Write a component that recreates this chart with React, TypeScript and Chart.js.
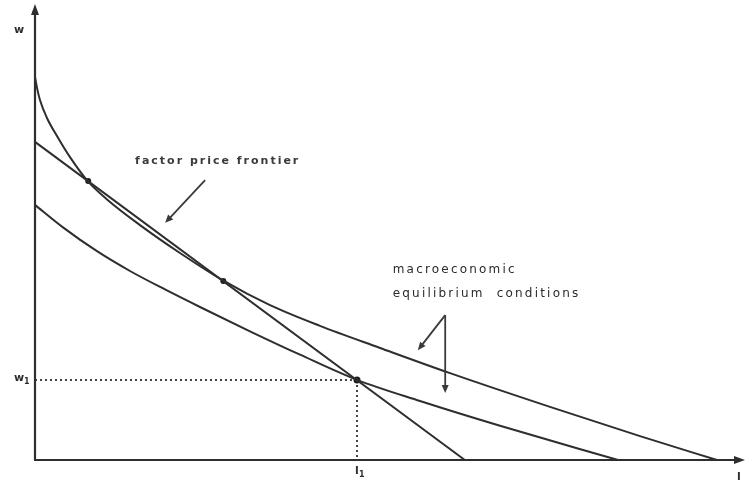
import React, { useEffect, useRef } from 'react';
import { Chart, registerables } from 'chart.js';

Chart.register(...registerables);

// factor price frontier (convex curve)
const frontierL = [0, 0.029, 0.071, 0.171, 0.314, 0.5, 0.757, 1.029, 1.5, 2.071, 2.686, 3.357, 4.071, 4.929, 5.929, 7.357, 8.643, 9.743];
const frontierW = [8.51, 8.27, 8.0, 7.6, 7.2, 6.73, 6.19, 5.79, 5.22, 4.6, 3.99, 3.44, 2.98, 2.49, 1.93, 1.18, 0.53, 0];

// macroeconomic equilibrium condition: straight line
const lineL = [0, 6.14];
const lineW = [7.07, 0];

// macroeconomic equilibrium condition: lower curve
const curveL = [0, 0.4, 0.886, 1.357, 1.857, 2.357, 3.071, 3.786, 4.6, 5.5, 6.643, 8.329];
const curveW = [5.67, 5.17, 4.64, 4.2, 3.79, 3.4, 2.86, 2.34, 1.78, 1.31, 0.76, 0];

// marked intersections
const dotL = [0.76, 2.69, 4.6];
const dotW = [6.2, 3.98, 1.78];

const l1 = 4.6;
const w1 = 1.78;

const yAxisTitle = 'w';
const xAxisTitle = 'l';
const tickW = ['w', '1'];
const tickL = ['l', '1'];
const frontierLabel = 'factor price frontier';
const macroLabel = ['macroeconomic', 'equilibrium  conditions'];

const INK = '#2e2e2e';

function toXY(xs: number[], ys: number[]) {
  return xs.map((x, i) => ({ x, y: ys[i] }));
}

function arrow(ctx: CanvasRenderingContext2D, x1: number, y1: number, x2: number, y2: number, len = 8, half = 3.5) {
  const a = Math.atan2(y2 - y1, x2 - x1);
  ctx.beginPath();
  ctx.moveTo(x1, y1);
  ctx.lineTo(x2 - Math.cos(a) * len * 0.6, y2 - Math.sin(a) * len * 0.6);
  ctx.stroke();
  ctx.beginPath();
  ctx.moveTo(x2, y2);
  ctx.lineTo(x2 - Math.cos(a) * len - Math.sin(a) * half, y2 - Math.sin(a) * len + Math.cos(a) * half);
  ctx.lineTo(x2 - Math.cos(a) * len + Math.sin(a) * half, y2 - Math.sin(a) * len - Math.cos(a) * half);
  ctx.closePath();
  ctx.fill();
}

const decorPlugin = {
  id: 'decor',
  beforeDatasetsDraw(chart: any) {
    const { ctx, scales } = chart;
    const X = (v: number) => scales.x.getPixelForValue(v);
    const Y = (v: number) => scales.y.getPixelForValue(v);
    ctx.save();
    ctx.strokeStyle = '#444';
    ctx.lineWidth = 2;
    ctx.setLineDash([2, 3]);
    ctx.beginPath();
    ctx.moveTo(X(0), Y(w1));
    ctx.lineTo(X(l1), Y(w1));
    ctx.moveTo(X(l1), Y(w1));
    ctx.lineTo(X(l1), Y(0));
    ctx.stroke();
    ctx.setLineDash([]);
    ctx.restore();
  },
  afterDraw(chart: any) {
    const { ctx, scales } = chart;
    const X = (v: number) => scales.x.getPixelForValue(v);
    const Y = (v: number) => scales.y.getPixelForValue(v);
    const x0 = X(0);
    const y0 = Y(0);
    ctx.save();
    ctx.strokeStyle = INK;
    ctx.fillStyle = INK;
    ctx.lineWidth = 2.2;
    // axes
    ctx.beginPath();
    ctx.moveTo(x0, y0);
    ctx.lineTo(x0, 12);
    ctx.moveTo(x0 - 1, y0);
    ctx.lineTo(738, y0);
    ctx.stroke();
    ctx.beginPath();
    ctx.moveTo(x0, 4);
    ctx.lineTo(x0 - 4, 15);
    ctx.lineTo(x0 + 4, 15);
    ctx.closePath();
    ctx.fill();
    ctx.beginPath();
    ctx.moveTo(745, y0);
    ctx.lineTo(734, y0 - 4);
    ctx.lineTo(734, y0 + 4);
    ctx.closePath();
    ctx.fill();

    // axis titles
    ctx.textBaseline = 'middle';
    ctx.textAlign = 'left';
    ctx.font = 'bold 11px "DejaVu Sans"';
    ctx.fillText(yAxisTitle, 14, 30);
    ctx.fillText(xAxisTitle, 737, 477);

    // tick labels with subscripts
    ctx.fillText(tickW[0], 14, Y(w1) - 2);
    ctx.font = 'bold 8px "DejaVu Sans"';
    ctx.fillText(tickW[1], 24, Y(w1) + 2);
    ctx.font = 'bold 11px "DejaVu Sans"';
    ctx.fillText(tickL[0], X(l1) - 2, 471);
    ctx.font = 'bold 8px "DejaVu Sans"';
    ctx.fillText(tickL[1], X(l1) + 2, 475);

    // annotations
    ctx.fillStyle = '#3a3a3a';
    (ctx as any).letterSpacing = '2px';
    ctx.font = 'bold 11px "DejaVu Sans"';
    ctx.fillText(frontierLabel, X(1.43), Y(6.64));
    ctx.fillStyle = '#2a2a2a';
    (ctx as any).letterSpacing = '2.2px';
    ctx.font = '12px "DejaVu Sans"';
    ctx.fillText(macroLabel[0], X(5.11), Y(4.22));
    ctx.fillText(macroLabel[1], X(5.11), Y(3.69));
    (ctx as any).letterSpacing = '0px';

    ctx.strokeStyle = '#3a3a3a';
    ctx.fillStyle = '#3a3a3a';
    ctx.lineWidth = 1.8;
    arrow(ctx, X(2.43), Y(6.22), X(1.86), Y(5.27));
    arrow(ctx, X(5.86), Y(3.22), X(5.47), Y(2.44));
    arrow(ctx, X(5.86), Y(3.22), X(5.86), Y(1.49));
    ctx.restore();
  },
};

export default function App() {
  const ref = useRef<HTMLCanvasElement | null>(null);
  useEffect(() => {
    if (!ref.current) return;
    const lineStyle = {
      showLine: true,
      borderColor: INK,
      borderWidth: 2,
      pointRadius: 0,
      fill: false,
    };
    const chart = new Chart(ref.current, {
      type: 'scatter',
      data: {
        datasets: [
          { ...lineStyle, label: 'factor price frontier', data: toXY(frontierL, frontierW), cubicInterpolationMode: 'monotone' } as any,
          { ...lineStyle, label: 'equilibrium line', data: toXY(lineL, lineW), tension: 0 } as any,
          { ...lineStyle, label: 'equilibrium curve', data: toXY(curveL, curveW), cubicInterpolationMode: 'monotone' } as any,
          {
            label: 'points',
            data: toXY(dotL, dotW),
            showLine: false,
            pointRadius: [3, 3, 3.5],
            pointBackgroundColor: '#1e1e1e',
            pointBorderColor: '#1e1e1e',
            pointBorderWidth: 0,
          } as any,
        ],
      },
      options: {
        animation: false,
        responsive: true,
        maintainAspectRatio: false,
        layout: { padding: { left: 35, right: 10, top: 10, bottom: 25 } },
        plugins: { legend: { display: false }, tooltip: { enabled: false } },
        scales: {
          x: { type: 'linear', min: 0, max: 10, display: false },
          y: { type: 'linear', min: 0, max: 10, display: false },
        },
        datasets: { scatter: { clip: false } } as any,
      },
      plugins: [decorPlugin],
    });
    return () => chart.destroy();
  }, []);
  return (
    <div style={{ position: 'fixed', left: 0, top: 0, width: 745, height: 485, background: '#fff' }}>
      <canvas ref={ref} />
    </div>
  );
}
